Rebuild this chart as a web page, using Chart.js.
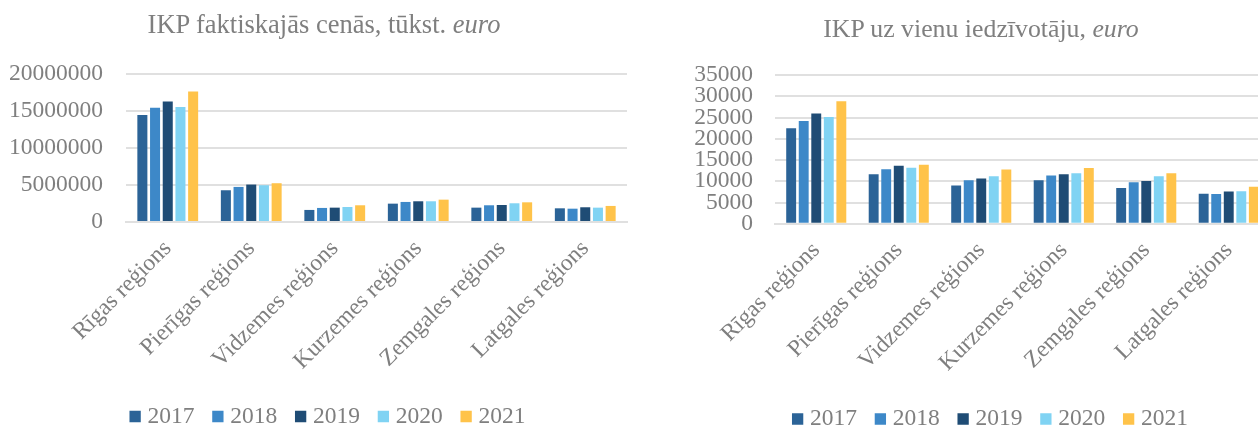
<!DOCTYPE html>
<html><head><meta charset="utf-8">
<script src="https://cdn.jsdelivr.net/npm/chart.js@4.4.1/dist/chart.umd.min.js"></script>
<style>
html,body{margin:0;padding:0;background:#fff;overflow:hidden;width:1258px;height:428px;}
#wrap{position:relative;width:1258px;height:428px;overflow:hidden;}
.box{position:absolute;top:0;}
.title{position:absolute;font-family:"Liberation Serif";color:#7f7f7f;white-space:nowrap;line-height:30px;text-align:center;width:600px;}
</style></head><body>
<div id="wrap">
<div class="box" style="left:0px;"><canvas id="c1" width="650" height="450"></canvas></div>
<div class="box" style="left:640px;"><canvas id="c2" width="650" height="450"></canvas></div>
<div class="title" style="left:24px;top:9px;font-size:26.5px;">IKP faktiskajās cenās, tūkst. <i>euro</i></div>
<div class="title" style="left:681px;top:14px;font-size:25.8px;">IKP uz vienu iedzīvotāju, <i>euro</i></div>
</div>
<script>
const categories = ['Rīgas reģions','Pierīgas reģions','Vidzemes reģions','Kurzemes reģions','Zemgales reģions','Latgales reģions'];
const years = ['2017','2018','2019','2020','2021'];
const colors = ['#2B6397','#3D88C8','#1F4C75','#80D3F3','#FFC34A'];

// GDP at current prices, thousand euro — by year across regions
const gdp2017 = [14450000, 4290000, 1630000, 2480000, 1940000, 1850000];
const gdp2018 = [15440000, 4740000, 1900000, 2710000, 2260000, 1800000];
const gdp2019 = [16300000, 5060000, 1940000, 2800000, 2300000, 1990000];
const gdp2020 = [15530000, 4970000, 2030000, 2800000, 2530000, 1940000];
const gdp2021 = [17650000, 5240000, 2260000, 3020000, 2660000, 2170000];

// GDP per capita, euro
const pc2017 = [22500, 11650, 8990, 10250, 8420, 7080];
const pc2018 = [24200, 12850, 10250, 11350, 9790, 7000];
const pc2019 = [25950, 13640, 10640, 11640, 10030, 7590];
const pc2020 = [25100, 13160, 11190, 11870, 11170, 7670];
const pc2021 = [28850, 13870, 12770, 13130, 11870, 8690];

const leftTicksMax = 20000000, leftTicksStep = 5000000;
const rightTicksMax = 35000, rightTicksStep = 5000;

const FONT = 'Liberation Serif';
const GRAY = '#7f7f7f';
const GRID = '#e0e0e0';

function makeChart(id, series, yMax, yStep, g) {
  return new Chart(document.getElementById(id), {
    type: 'bar',
    data: {
      labels: categories,
      datasets: series.map((d, i) => ({
        label: years[i], data: d, backgroundColor: colors[i],
        categoryPercentage: 0.76, barPercentage: 0.79
      }))
    },
    plugins: [{
      id: 'legendShift',
      afterLayout(chart) {
        if (chart.legend) { chart.legend.left += g.legShift; chart.legend.right += g.legShift; }
      }
    }],
    options: {
      responsive: false, animation: false,
      layout: { padding: { left: 0, right: g.padR, top: g.padT, bottom: g.padB } },
      plugins: {
        tooltip: { enabled: false },
        legend: {
          position: 'bottom',
          labels: {
            usePointStyle: true, pointStyle: 'rect', boxWidth: 1, boxHeight: 11.3,
            padding: 23, color: GRAY, font: { family: FONT, size: 23.5 }
          }
        }
      },
      scales: {
        x: {
          grid: { display: false, drawTicks: false },
          border: { display: true, color: GRID, width: 2 },
          ticks: { color: GRAY, font: { family: FONT, size: 23.5 }, minRotation: 45, maxRotation: 45, autoSkip: false, padding: g.xPad },
          afterFit: s => { s.height = g.xH; }
        },
        y: {
          min: 0, max: yMax,
          grid: { color: GRID, lineWidth: 2, drawTicks: false },
          border: { display: false },
          ticks: { stepSize: yStep, autoSkip: false, color: GRAY, font: { family: FONT, size: 23.5 }, padding: g.yPad,
                   callback: v => String(v) },
          afterFit: s => { s.width = g.yW; }
        }
      }
    }
  });
}

makeChart('c1', [gdp2017, gdp2018, gdp2019, gdp2020, gdp2021], leftTicksMax, leftTicksStep,
  { padR: 23, padT: 74, padB: 11.75, xH: 159.75, yW: 126, yPad: 23, xPad: 13, legShift: 16.5 });
makeChart('c2', [pc2017, pc2018, pc2019, pc2020, pc2021], rightTicksMax, rightTicksStep,
  { padR: 20, padT: 75, padB: 9.25, xH: 160.5, yW: 135, yPad: 22, xPad: 13, legShift: 37.5 });
</script>
</body></html>
